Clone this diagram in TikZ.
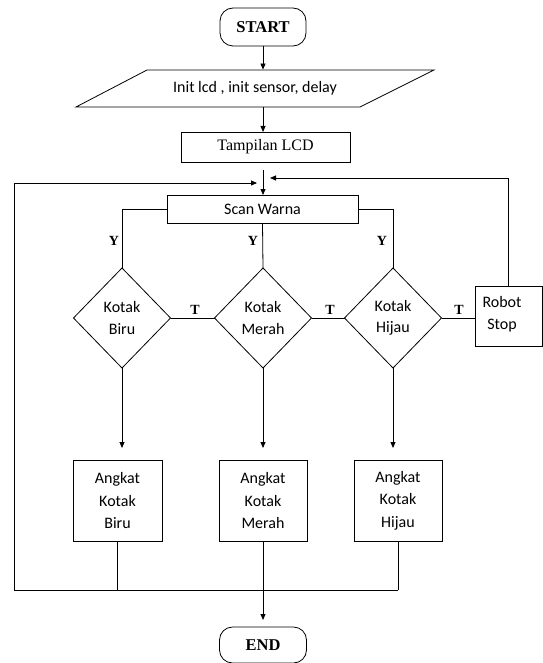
\documentclass[tikz,border=0pt]{standalone}
\usepackage{fontspec}
\setmainfont{Liberation Serif}
\newfontfamily\calfont{Carlito}
\usetikzlibrary{shapes.geometric,arrows.meta}
\begin{document}
\begin{tikzpicture}[x=1pt,y=-1pt,line width=0.8pt,
  box/.style={draw,rectangle,inner sep=0pt,outer sep=0pt},
  term/.style={draw,rectangle,rounded corners=13pt,inner sep=0pt,outer sep=0pt,font=\bfseries\fontsize{16.5}{18}\selectfont},
  dec/.style={draw,diamond,inner sep=0pt,outer sep=0pt,minimum width=97pt,minimum height=100pt,align=center,font=\calfont\fontsize{16}{21.5}\selectfont},
  sans/.style={font=\calfont\fontsize{16}{22.5}\selectfont,align=center},
  serif/.style={font=\fontsize{16}{18}\selectfont},
  lab/.style={font=\bfseries\fontsize{14}{16}\selectfont,inner sep=0pt},
  arr/.style={-{Triangle[length=6pt,width=5pt]}}]
\useasboundingbox (0,0) rectangle (542,663);

% nodes
\node[term,minimum width=86pt,minimum height=38pt] (start) at (263,27) {START};
\draw (147,70) -- (434,70) -- (360,107) -- (76,107) -- cycle;
\node[sans,inner sep=0pt,minimum height=37pt] (init) at (255,88.5) {Init lcd , init sensor, delay};
\node[box,serif,minimum width=169pt,minimum height=30pt] (tamp) at (265.5,147) {Tampilan LCD};
\node[box,sans,minimum width=191pt,minimum height=28pt] (scan) at (262.5,209) {Scan Warna};

\node[dec] (db) at (122,318) {Kotak\\Biru};
\node[dec] (dm) at (263,318) {Kotak\\Merah};
\node[dec] (dh) at (393,318) {Kotak\\Hijau};
\node[box,minimum width=67pt,minimum height=60pt] (robot) at (508.5,316) {};
\node[font=\calfont\fontsize{16}{21.5}\selectfont,align=center,inner sep=0pt] (robottxt) at (502,314) {Robot\\Stop};

\node[box,sans,minimum width=89pt,minimum height=81pt] (ab) at (117.5,500.5) {Angkat\\Kotak\\Biru};
\node[box,sans,minimum width=88pt,minimum height=81pt] (am) at (263,500.5) {Angkat\\Kotak\\Merah};
\node[box,sans,minimum width=88pt,minimum height=81pt] (ah) at (398,500.5) {Angkat\\Kotak\\Hijau};

\node[term,minimum width=87pt,minimum height=36pt] (end) at (263,645) {END};

\coordinate (j) at (263,170);
\coordinate (loopL) at (257,183);
\coordinate (loopR) at (270,178);
\coordinate (bot) at (14,590);

% connectors
\draw[arr] (start.south) -- (start.south |- init.north);
\draw[arr] (init.south -| start) -- (tamp.north -| start);
\draw[arr] (j) -- (scan.north -| j);

\draw (scan.west) -| (db.north);
\draw (scan.south) -- (dm.north);
\draw (scan.east) -| (dh.north);
\node[lab] at (114,241) {Y};
\node[lab] at (253,241) {Y};
\node[lab] at (382,241) {Y};

\draw (db.east) -- (dm.west);
\draw (dm.east) -- (dh.west);
\draw (dh.east) -- (dh.east -| robot.west);
\node[lab] at (195,310) {T};
\node[lab] at (330,310) {T};
\node[lab] at (459,310) {T};

\draw[arr] (robot.north) |- (loopR);

\draw[arr,shorten >=12pt] (db.south) -- (db.south |- ab.north);
\draw[arr,shorten >=12pt] (dm.south) -- (dm.south |- am.north);
\draw[arr,shorten >=12pt] (dh.south) -- (dh.south |- ah.north);

\draw (ab.south) -- (ab.south |- bot);
\draw (ah.south) -- (ah.south |- bot);
\draw[arr] (ah.south |- bot) -- (bot) -- (bot |- loopL) -- (loopL);
\draw[arr,shorten >=7pt] (am.south) -- (end.north);
\end{tikzpicture}
\end{document}
